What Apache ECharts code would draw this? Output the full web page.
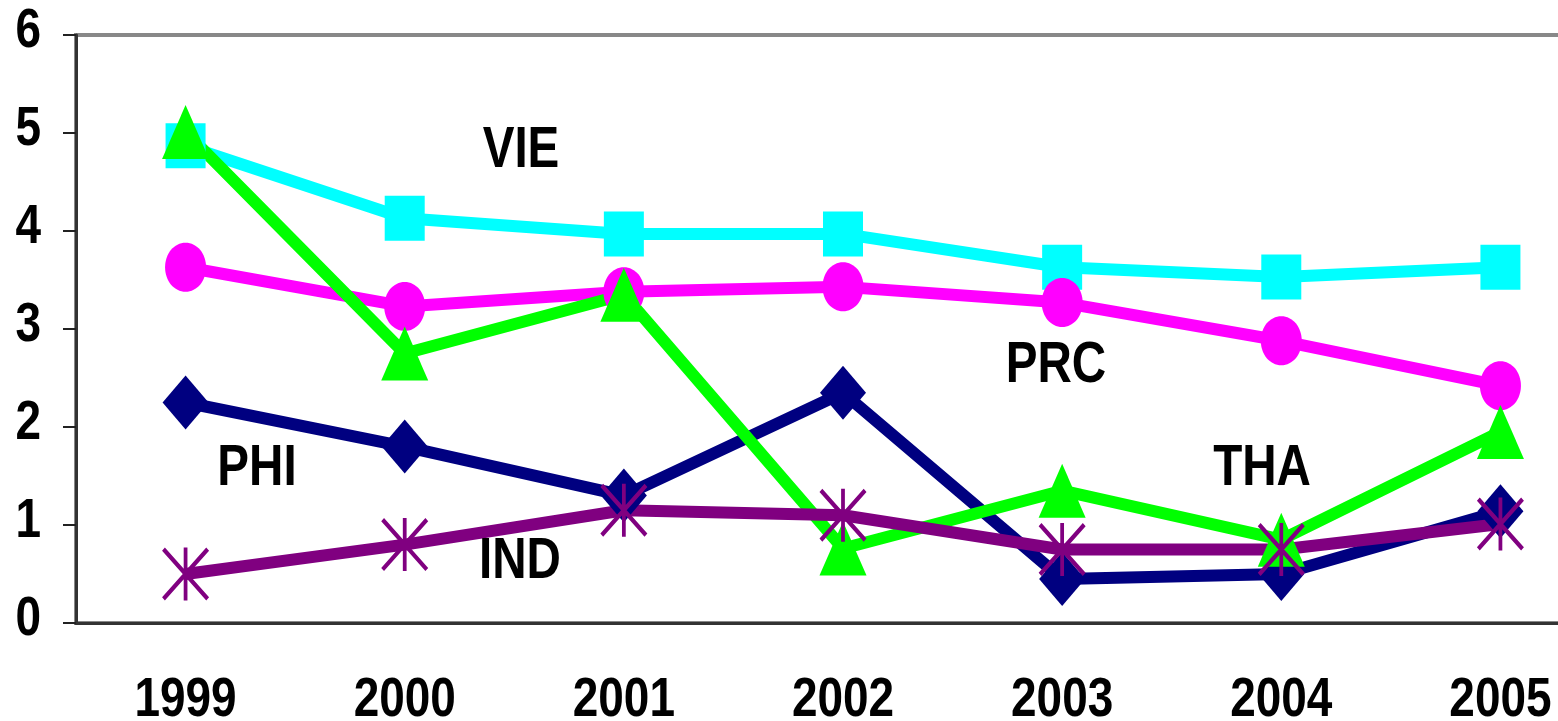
<!DOCTYPE html>
<html>
<head>
<meta charset="utf-8">
<script src="https://cdn.jsdelivr.net/npm/echarts@6/dist/echarts.min.js"></script>
<style>
  html, body { margin: 0; padding: 0; background: #fff; }
  #main { width: 1558px; height: 721px; }
</style>
</head>
<body>
<div id="main"></div>
<script>
// categories / values
var years = ['1999', '2000', '2001', '2002', '2003', '2004', '2005']
var yTicks = [0, 1, 2, 3, 4, 5, 6]
var vie = [4.87, 4.13, 3.97, 3.97, 3.63, 3.53, 3.63]
var prc = [3.63, 3.23, 3.38, 3.43, 3.27, 2.88, 2.42]
var phi = [2.25, 1.80, 1.30, 2.35, 0.45, 0.50, 1.14]
var tha = [5.01, 2.75, 3.35, 0.76, 1.35, 0.85, 1.95]
var ind = [0.50, 0.80, 1.15, 1.10, 0.75, 0.75, 1.01]

var font = '"Liberation Sans", Arial, sans-serif'
var squeeze = 0.82 // original text is a narrow bold face
// asterisk marker: vertical bar + two diagonals (same winding so overlaps stay filled)
var starPath = 'path://M46 0L54 0L54 100L46 100Z M0 6L6 0L100 94L94 100Z M94 0L100 6L6 100L0 94Z'
// circle as a path so it stretches like the (vertically stretched) original
var ovalPath = 'path://M0 50C0 22 22 0 50 0C78 0 100 22 100 50C100 78 78 100 50 100C22 100 0 78 0 50Z'

function lineSeries (name, data, color, symbol, size) {
  return {
    name: name,
    type: 'line',
    data: data,
    symbol: symbol,
    symbolSize: size,
    showAllSymbol: true,
    animation: false,
    lineStyle: { color: color, width: 12 },
    itemStyle: { color: color },
    emphasis: { disabled: true }
  }
}

function text (str, x, y, size, align) {
  return {
    type: 'text',
    x: x,
    y: y,
    scaleX: squeeze,
    z: 100,
    silent: true,
    style: {
      text: str,
      fill: '#000',
      font: 'bold ' + size + 'px ' + font,
      align: align || 'center',
      verticalAlign: 'middle'
    }
  }
}

var myChart = echarts.init(document.getElementById('main'))
myChart.setOption({
  animation: false,
  grid: {
    left: 76,
    top: 35,
    width: 1534,
    bottom: 98,
    outerBoundsMode: 'none',
    containLabel: false,
    show: true,
    borderColor: '#888',
    borderWidth: 4
  },
  xAxis: {
    type: 'category',
    data: years,
    boundaryGap: true,
    axisLine: { lineStyle: { color: '#333', width: 3 } },
    axisTick: { length: 14, lineStyle: { color: '#222', width: 2 } },
    axisLabel: { show: false },
    splitLine: { show: false }
  },
  yAxis: {
    type: 'value',
    min: yTicks[0],
    max: yTicks[yTicks.length - 1],
    interval: 1,
    axisLine: { show: true, lineStyle: { color: '#333', width: 3 } },
    axisTick: { show: true, length: 13, lineStyle: { color: '#222', width: 2 } },
    axisLabel: { show: false },
    splitLine: { show: false }
  },
  series: [
    lineSeries('VIE', vie, '#00ffff', 'rect', [40, 45]),
    lineSeries('PRC', prc, '#ff00ff', ovalPath, [41, 49]),
    lineSeries('PHI', phi, '#000080', 'diamond', [46, 54]),
    lineSeries('THA', tha, '#00ff00', 'triangle', [47, 54]),
    lineSeries('IND', ind, '#800080', starPath, [47, 53])
  ]
})

// tick labels and series names, drawn narrow to match the original face
var labels = [
  text('VIE', 521, 151, 58),
  text('PRC', 1056, 366, 58),
  text('PHI', 257, 469, 58),
  text('THA', 1262, 469, 58),
  text('IND', 520, 562, 58)
]
years.forEach(function (y) {
  var p = myChart.convertToPixel({ gridIndex: 0 }, [y, 0])
  labels.push(text(y, p[0], p[1] + 78, 56))
})
yTicks.forEach(function (v) {
  var p = myChart.convertToPixel({ gridIndex: 0 }, [years[0], v])
  labels.push(text(String(v), 41, p[1] - 3, 56, 'right'))
})
myChart.setOption({ graphic: labels })
</script>
</body>
</html>
